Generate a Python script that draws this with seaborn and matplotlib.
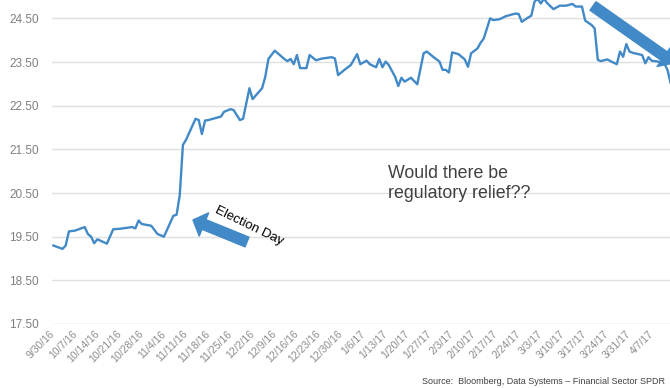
import seaborn as sns
import matplotlib.pyplot as plt
import matplotlib.ticker as mticker
import matplotlib.dates as mdates
import pandas as pd

# XLF closing prices
dates = [
    '2016-09-30', '2016-10-03', '2016-10-04', '2016-10-05', '2016-10-07', '2016-10-10',
    '2016-10-11', '2016-10-12', '2016-10-13', '2016-10-14', '2016-10-17', '2016-10-19',
    '2016-10-21', '2016-10-25', '2016-10-26', '2016-10-27', '2016-10-28', '2016-10-31',
    '2016-11-02', '2016-11-04', '2016-11-07', '2016-11-08', '2016-11-09', '2016-11-10',
    '2016-11-11', '2016-11-14', '2016-11-15', '2016-11-16', '2016-11-17', '2016-11-18',
    '2016-11-21', '2016-11-22', '2016-11-23', '2016-11-25', '2016-11-26', '2016-11-28',
    '2016-11-29', '2016-12-01', '2016-12-02', '2016-12-05', '2016-12-06', '2016-12-07',
    '2016-12-09', '2016-12-12', '2016-12-13', '2016-12-14', '2016-12-15', '2016-12-16',
    '2016-12-17', '2016-12-19', '2016-12-20', '2016-12-22', '2016-12-24', '2016-12-27',
    '2016-12-28', '2016-12-29', '2016-12-31', '2017-01-02', '2017-01-04', '2017-01-05',
    '2017-01-07', '2017-01-08', '2017-01-10', '2017-01-11', '2017-01-12', '2017-01-13',
    '2017-01-14', '2017-01-16', '2017-01-17', '2017-01-18', '2017-01-19', '2017-01-21',
    '2017-01-23', '2017-01-25', '2017-01-26', '2017-01-28', '2017-01-30', '2017-01-31',
    '2017-02-01', '2017-02-02', '2017-02-03', '2017-02-05', '2017-02-07', '2017-02-08',
    '2017-02-09', '2017-02-11', '2017-02-12', '2017-02-13', '2017-02-15', '2017-02-16',
    '2017-02-18', '2017-02-20', '2017-02-23', '2017-02-24', '2017-02-25', '2017-02-27',
    '2017-02-28', '2017-03-01', '2017-03-02', '2017-03-03', '2017-03-04', '2017-03-05',
    '2017-03-07', '2017-03-09', '2017-03-11', '2017-03-13', '2017-03-14', '2017-03-16',
    '2017-03-17', '2017-03-19', '2017-03-20', '2017-03-21', '2017-03-22', '2017-03-24',
    '2017-03-25', '2017-03-27', '2017-03-28', '2017-03-29', '2017-03-30', '2017-03-31',
    '2017-04-01', '2017-04-04', '2017-04-05', '2017-04-06', '2017-04-07', '2017-04-09',
    '2017-04-11', '2017-04-12', '2017-04-13',
]
prices = [
    19.30, 19.22, 19.30, 19.62, 19.64, 19.72,
    19.56, 19.50, 19.35, 19.44, 19.34, 19.67,
    19.68, 19.72, 19.69, 19.87, 19.79, 19.75,
    19.56, 19.50, 19.98, 20.00, 20.45, 21.60,
    21.72, 22.20, 22.17, 21.85, 22.16, 22.17,
    22.23, 22.25, 22.36, 22.42, 22.40, 22.17,
    22.20, 22.90, 22.65, 22.90, 23.16, 23.57,
    23.76, 23.57, 23.52, 23.57, 23.45, 23.66,
    23.36, 23.36, 23.66, 23.54, 23.58, 23.61,
    23.58, 23.20, 23.32, 23.43, 23.68, 23.45,
    23.53, 23.45, 23.38, 23.57, 23.38, 23.51,
    23.43, 23.16, 22.95, 23.14, 23.05, 23.14,
    22.99, 23.70, 23.74, 23.62, 23.51, 23.32,
    23.32, 23.26, 23.72, 23.68, 23.56, 23.39,
    23.70, 23.81, 23.94, 24.04, 24.50, 24.46,
    24.48, 24.55, 24.61, 24.60, 24.42, 24.52,
    24.56, 24.88, 24.95, 24.84, 24.95, 24.85,
    24.71, 24.79, 24.79, 24.83, 24.77, 24.77,
    24.45, 24.35, 24.27, 23.55, 23.52, 23.56,
    23.52, 23.45, 23.74, 23.62, 23.91, 23.74,
    23.71, 23.66, 23.47, 23.61, 23.53, 23.51,
    23.47, 23.32, 23.01,
]
tick_dates = pd.date_range('2016-09-30', '2017-04-07', freq='7D')
y_ticks = [17.5, 18.5, 19.5, 20.5, 21.5, 22.5, 23.5, 24.5]

sns.set_theme(style='white')
plt.rcParams['font.family'] = ['Liberation Sans', 'DejaVu Sans']

df = pd.DataFrame({'date': pd.to_datetime(dates), 'price': prices})

W, H = 670, 388
fig = plt.figure(figsize=(6.7, 3.88), dpi=100)
ax = fig.add_axes([52 / W, 1 - 324 / H, 1 - 52 / W, 324 / H])

sns.lineplot(data=df, x='date', y='price', color='#4189c7', linewidth=1.7, ax=ax)

ax.set_xlim(pd.Timestamp('2016-09-30') - pd.Timedelta(hours=8),
            pd.Timestamp('2017-04-12') + pd.Timedelta(hours=19))
ax.set_ylim(17.5, 24.92)
ax.set_yticks(y_ticks)
ax.yaxis.set_major_formatter(mticker.FormatStrFormatter('%.2f'))
ax.set_xticks(tick_dates)


def fmt_date(x, pos):
    d = mdates.num2date(x)
    return f"{d.month}/{d.day}/{d:%y}"


ax.xaxis.set_major_formatter(mticker.FuncFormatter(fmt_date))
ax.tick_params(axis='y', length=0, pad=9.5, labelsize=8.5, labelcolor='#7f7f7f')
ax.tick_params(axis='x', length=0, pad=6, labelsize=7.5, labelcolor='#8c8c8c')
for lab in ax.get_xticklabels():
    lab.set_rotation(45)
    lab.set_ha('right')
    lab.set_va('center')
    lab.set_rotation_mode('anchor')

ax.grid(axis='y', color='#e0e0e0', linewidth=1)
ax.grid(axis='x', visible=False)
ax.set_axisbelow(True)
for s in ax.spines.values():
    s.set_visible(False)
ax.set_xlabel('')
ax.set_ylabel('')

# arrows
arrow_style = 'simple,head_length=0.85,head_width=1.8,tail_width=0.75'
ax.annotate('', xy=(193, H - 220), xytext=(247, H - 242),
            xycoords='figure pixels', textcoords='figure pixels',
            arrowprops=dict(arrowstyle=arrow_style, mutation_scale=10,
                            color='#4189c7', shrinkA=0, shrinkB=0),
            annotation_clip=False)
ax.annotate('', xy=(674, H - 63), xytext=(593, H - 6),
            xycoords='figure pixels', textcoords='figure pixels',
            arrowprops=dict(arrowstyle=arrow_style, mutation_scale=10,
                            color='#4189c7', shrinkA=0, shrinkB=0),
            annotation_clip=False)

fig.text(249 / W, 1 - 226 / H, 'Election Day', rotation=-26, ha='center', va='center',
         rotation_mode='anchor', fontsize=9.5, color='black')
fig.text(388 / W, 1 - 165 / H, 'Would there be\nregulatory relief??', ha='left', va='top',
         fontsize=12.8, color='#404040', linespacing=1.25)
fig.text(665 / W, 6 / H, 'Source:  Bloomberg, Data Systems \u2013 Financial Sector SPDR',
         ha='right', va='center', fontsize=6.5, color='#404040')

fig.savefig('out.png', dpi=100)
plt.close()
